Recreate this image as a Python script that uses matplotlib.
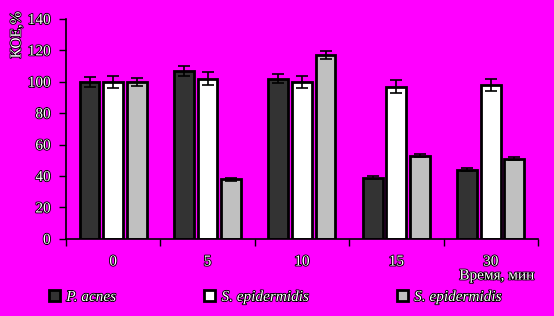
import matplotlib.pyplot as plt
import matplotlib.patheffects as pe
from matplotlib.patches import Patch
import numpy as np

# data
times = ['0', '5', '10', '15', '30']
series_names = ['P. acnes', 'S. epidermidis', 'S. epidermidis']
p_acnes = [100, 107, 102, 39, 44]
p_acnes_err = [3, 3, 3, 1, 1]
s_epi_1 = [100, 102, 100, 97, 98]
s_epi_1_err = [4, 4, 4, 4, 4]
s_epi_2 = [100, 38, 117, 53, 51]
s_epi_2_err = [2.5, 1, 2.5, 1, 1]
colors = ['#333333', '#ffffff', '#c0c0c0']
bg = '#ff00ff'

plt.rcParams['font.family'] = ['Liberation Serif', 'DejaVu Serif']
outline = [pe.withStroke(linewidth=1.3, foreground='black')]

fig = plt.figure(figsize=(5.54, 3.16), dpi=100, facecolor=bg)
ax = fig.add_axes([0.119, 0.244, 0.852, 0.696])
ax.set_facecolor(bg)

x = np.arange(len(times))
w = 0.21
offs = [-0.25, 0, 0.25]
vals = [p_acnes, s_epi_1, s_epi_2]
errs = [p_acnes_err, s_epi_1_err, s_epi_2_err]
for i in range(3):
    ax.bar(x + offs[i], vals[i], w, color=colors[i], edgecolor='black',
           linewidth=2, yerr=errs[i], capsize=4,
           error_kw=dict(ecolor='black', elinewidth=1.2, capthick=1.2))

ax.set_xlim(-0.5, len(times) - 0.5)
ax.set_ylim(0, 140)
ax.set_yticks(range(0, 141, 20))
ax.set_xticks(np.arange(-0.5, len(times)), [''] * (len(times) + 1))
ax.set_xticks(x, times, minor=True)
ax.tick_params(axis='x', which='minor', length=0, pad=12)
ax.tick_params(axis='x', which='major', length=5, width=1, direction='out')
ax.tick_params(axis='y', length=5, width=1, direction='out', pad=6)
for lab in ax.get_yticklabels() + ax.get_xticklabels(minor=True):
    lab.set_fontsize(11)
    lab.set_color('white')
    lab.set_path_effects(outline)
for s in ['top', 'right']:
    ax.spines[s].set_visible(False)
for s in ['left', 'bottom']:
    ax.spines[s].set_linewidth(1.2)

fig.text(17 / 554, 1 - 35 / 316, 'КОЕ,%', rotation=90, ha='center', va='center',
         fontsize=11, color='white', path_effects=outline)
fig.text(497 / 554, 1 - 276 / 316, 'Время, мин', ha='center', va='center',
         fontsize=11, color='white', path_effects=outline)

handles = [Patch(facecolor=colors[i], edgecolor='black', linewidth=2) for i in range(3)]
leg = fig.legend(handles, series_names, loc='center left', bbox_to_anchor=(35 / 554, 1 - 297 / 316),
                 ncol=3, frameon=False, handlelength=0.75, handleheight=0.75,
                 handletextpad=0.4, columnspacing=5.75, prop=dict(size=11, style='italic'))
for t in leg.get_texts():
    t.set_color('white')
    t.set_path_effects(outline)

fig.savefig('out.png', dpi=100, facecolor=bg)
